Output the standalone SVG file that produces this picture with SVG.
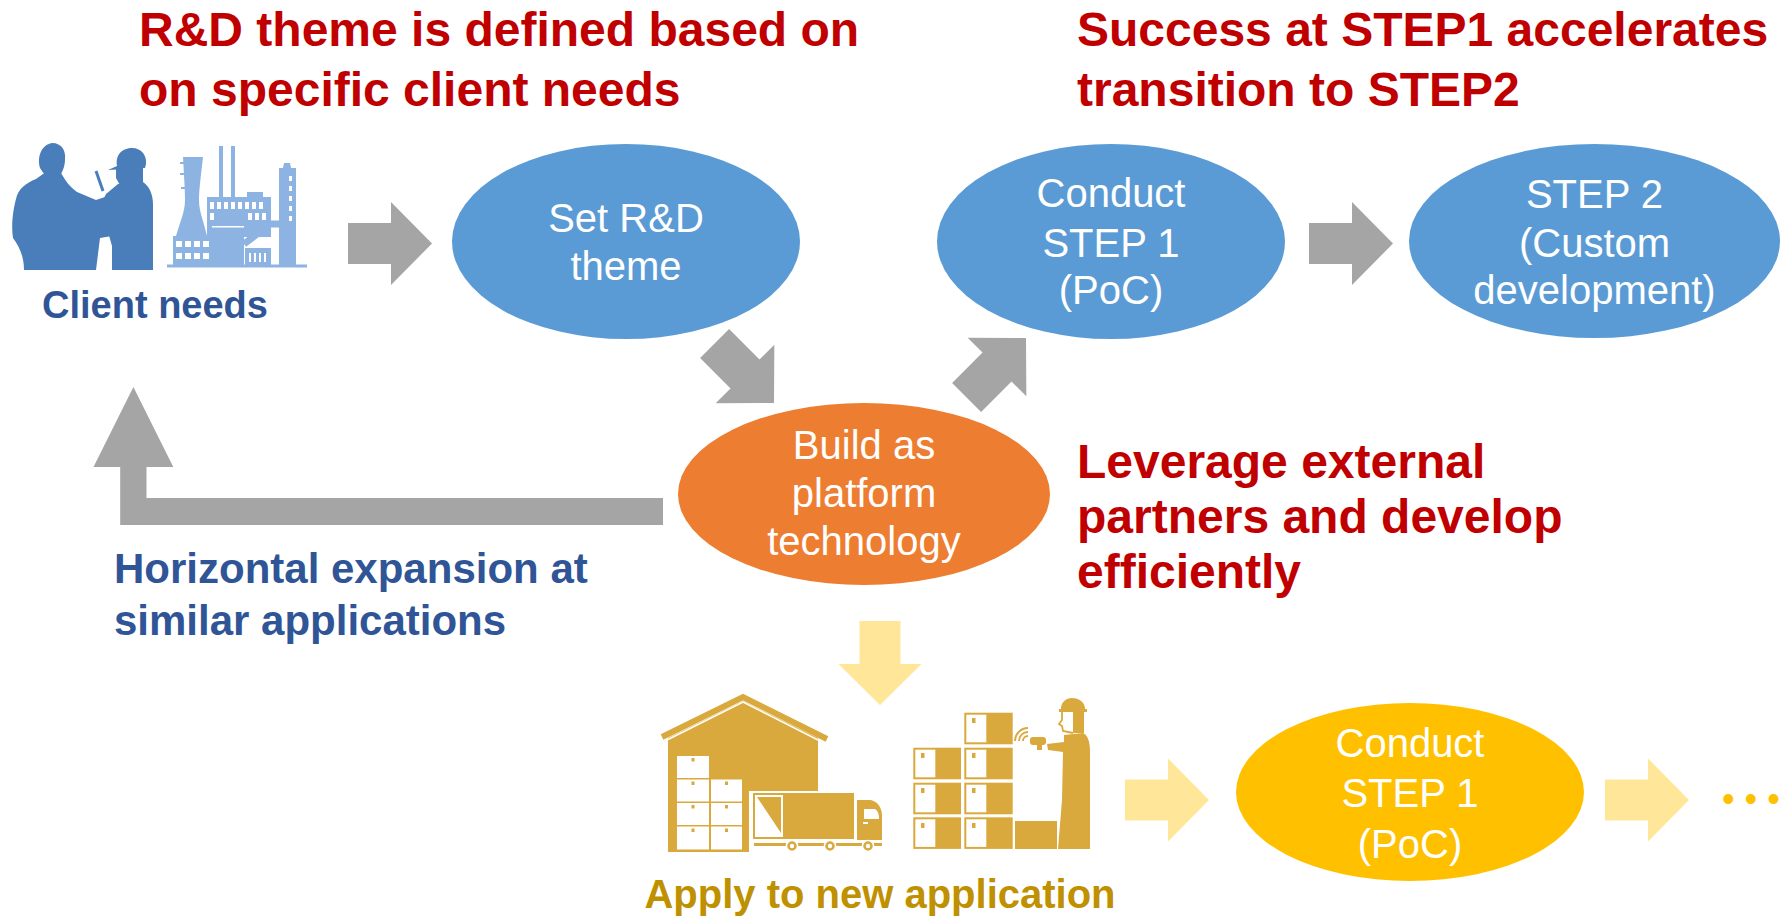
<svg xmlns="http://www.w3.org/2000/svg" xmlns:xlink="http://www.w3.org/1999/xlink" width="1782" height="918" viewBox="0 0 1782 918">
  <style>
    .red { fill: #c00000; font-family: "Liberation Sans", Arial, sans-serif; font-weight: bold; font-size: 48px; }
    .blue { fill: #2f5597; font-family: "Liberation Sans", Arial, sans-serif; font-weight: bold; }
    .gold { fill: #bf9000; font-family: "Liberation Sans", Arial, sans-serif; font-weight: bold; font-size: 40px; }
    .lbl { fill: #ffffff; font-family: "Liberation Sans", Arial, sans-serif; font-size: 40px; text-anchor: middle; }
    .gray { fill: #a5a5a5; }
    .lite { fill: #ffe699; }
    .ppl { fill: #4a7ebb; }
    .fac { fill: #8db3e2; }
    .ochre { fill: #daa93d; }
    .win { fill: #ffffff; }
  </style>
  <defs>
    <!-- block arrow pointing +x, tail at origin, 84 long -->
    <path id="blk" d="M0,-20.5 H43 V-41.5 L84,0 L43,41.5 V20.5 H0 Z"/>
  </defs>

  <!-- headline notes -->
  <g id="note-theme">
    <text class="red" x="139" y="46">R&amp;D theme is defined based on</text>
    <text class="red" x="139" y="106">on specific client needs</text>
  </g>
  <g id="note-step">
    <text class="red" x="1077" y="46">Success at STEP1 accelerates</text>
    <text class="red" x="1077" y="106">transition to STEP2</text>
  </g>
  <g id="note-partners">
    <text class="red" x="1077" y="478">Leverage external</text>
    <text class="red" x="1077" y="533">partners and develop</text>
    <text class="red" x="1077" y="588">efficiently</text>
  </g>
  <g id="note-horizontal">
    <text class="blue" font-size="42" x="114" y="583">Horizontal expansion at</text>
    <text class="blue" font-size="42" x="114" y="635">similar applications</text>
  </g>

  <!-- connectors -->
  <g id="connectors">
    <use href="#blk" class="gray" transform="translate(348,243.5)"/>
    <use href="#blk" class="gray" transform="translate(714.6,343.6) rotate(45)"/>
    <use href="#blk" class="gray" transform="translate(966.6,397.4) rotate(-45)"/>
    <use href="#blk" class="gray" transform="translate(1309,243.5)"/>
    <path class="gray" d="M663,498 H146.5 V467 H173.3 L133.4,387 L93.5,467 H120.2 V525 H663 Z"/>
    <use href="#blk" class="lite" transform="translate(880,621) rotate(90)"/>
    <use href="#blk" class="lite" transform="translate(1125,800)"/>
    <use href="#blk" class="lite" transform="translate(1605,800)"/>
  </g>

  <!-- client needs: people and plant -->
  <g id="client-needs">
    <g class="ppl">
      <path d="M40,168 C37,157 41,145 52,143 C62,143 66,151 65,159 C65,166 63,170 61,174 L46,177 Z"/>
      <path d="M43,174 L61,173 C65,180 69,186 77,192 L96,200 L108,196 L112,236 L100,238 L96,270 L24,270 C24,256 19,246 13,238 C11,226 13,210 16,199 C18,189 26,183 36,179 Z"/>
      <path d="M108,170 L117,166 C115,154 123,148 132,148 C142,148 147,156 146,164 L145,168 Z"/>
      <path d="M116,168 L143,168 L143,187 L121,187 L116,178 Z"/>
      <path d="M118,184 L143,182 C149,186 153,194 153,204 L153,270 L112,270 L112,246 L108,232 L104,218 L100,206 L106,194 Z"/>
      <path d="M96,171 L103,191" stroke="#4a7ebb" stroke-width="3"/>
    </g>
    <g class="fac">
      <rect x="167" y="264.5" width="140" height="3"/>
      <path d="M183,157 L203,157 C201,175 199,190 199,200 C199,212 204,222 207,236 L176,236 C180,222 185,212 185,200 C185,190 184,175 183,157 Z"/>
      <rect x="180" y="162" width="4" height="2"/>
      <rect x="180" y="173" width="4" height="2"/>
      <rect x="181" y="187" width="4" height="2"/>
      <rect x="219" y="146" width="4" height="52"/>
      <rect x="231" y="146" width="4" height="52"/>
      <rect x="207" y="197" width="64" height="40"/>
      <rect x="247" y="192" width="16" height="6"/>
      <path d="M212,267 L212,227 C212,219 220,216 228,216 C236,216 244,219 244,227 L244,267 Z"/>
      <rect x="173" y="236" width="40" height="31"/>
      <path d="M279,168 L283,168 L284,163 L290,163 L291,168 L296,168 L296,267 L279,267 Z"/>
      <path d="M244,244 L270,224 L280,224" stroke="#8db3e2" stroke-width="7" fill="none"/>
      <rect x="245" y="248" width="26" height="19"/>
    </g>
    <g class="win">
      <rect x="210" y="202" width="4" height="7"/><rect x="217" y="202" width="4" height="7"/><rect x="224" y="202" width="4" height="7"/><rect x="231" y="202" width="4" height="7"/><rect x="238" y="202" width="4" height="7"/><rect x="245" y="202" width="4" height="7"/><rect x="252" y="202" width="4" height="7"/><rect x="259" y="202" width="4" height="7"/>
      <rect x="210" y="213" width="4" height="7"/><rect x="248" y="213" width="4" height="7"/><rect x="255" y="213" width="4" height="7"/><rect x="262" y="213" width="4" height="7"/>
      <rect x="176" y="241" width="6" height="6"/><rect x="185" y="241" width="6" height="6"/><rect x="194" y="241" width="6" height="6"/><rect x="203" y="241" width="6" height="6"/>
      <rect x="176" y="253" width="6" height="6"/><rect x="185" y="253" width="6" height="6"/><rect x="194" y="253" width="6" height="6"/><rect x="203" y="253" width="6" height="6"/>
      <rect x="212" y="226" width="32" height="1.5"/>
      <rect x="249" y="253" width="2" height="9"/><rect x="254" y="253" width="2" height="9"/><rect x="259" y="253" width="2" height="9"/><rect x="264" y="253" width="2" height="9"/>
      <rect x="289" y="176" width="3" height="5"/><rect x="289" y="186" width="3" height="5"/><rect x="289" y="196" width="3" height="5"/><rect x="289" y="206" width="3" height="5"/><rect x="289" y="216" width="3" height="5"/>
    </g>
    <text class="blue" font-size="38" x="155" y="318" text-anchor="middle">Client needs</text>
  </g>

  <!-- process nodes -->
  <g id="set-theme">
    <ellipse cx="626" cy="241.5" rx="174" ry="97.5" fill="#5b9bd5"/>
    <text class="lbl" x="626" y="232">Set R&amp;D</text>
    <text class="lbl" x="626" y="280">theme</text>
  </g>
  <g id="step1">
    <ellipse cx="1111" cy="241.5" rx="174" ry="97.5" fill="#5b9bd5"/>
    <text class="lbl" x="1111" y="207">Conduct</text>
    <text class="lbl" x="1111" y="257">STEP 1</text>
    <text class="lbl" x="1111" y="304">(PoC)</text>
  </g>
  <g id="step2">
    <ellipse cx="1594.5" cy="241" rx="185.5" ry="97" fill="#5b9bd5"/>
    <text class="lbl" x="1594.5" y="208">STEP 2</text>
    <text class="lbl" x="1594.5" y="257">(Custom</text>
    <text class="lbl" x="1594.5" y="304">development)</text>
  </g>
  <g id="platform">
    <ellipse cx="864" cy="494" rx="186" ry="91" fill="#ed7d31"/>
    <text class="lbl" x="864" y="459">Build as</text>
    <text class="lbl" x="864" y="507">platform</text>
    <text class="lbl" x="864" y="555">technology</text>
  </g>
  <g id="new-step1">
    <ellipse cx="1410" cy="792" rx="174" ry="89" fill="#ffc000"/>
    <text class="lbl" font-size="42" x="1410" y="757">Conduct</text>
    <text class="lbl" font-size="42" x="1410" y="807">STEP 1</text>
    <text class="lbl" font-size="42" x="1410" y="858">(PoC)</text>
  </g>
  <g id="continue">
    <text x="1722" y="811" font-family="Liberation Sans, Arial, sans-serif" font-size="36" fill="#ffc000">• • •</text>
  </g>

  <!-- new application: warehouse, truck, worker -->
  <g id="new-application">
    <g class="ochre">
      <path d="M668,738 L743,701 L818,738 L818,791 L749,791 L749,852 L668,852 Z"/>
      <path d="M662,737 L743,697 L827,739" stroke="#daa93d" stroke-width="6" fill="none"/>
    </g>
    <path d="M667,740 L743,702 L820,741" stroke="#ffffff" stroke-width="1.5" fill="none"/>
    <g class="win">
      <rect x="677" y="756" width="32" height="22"/>
      <rect x="677" y="779.5" width="32" height="22"/><rect x="711" y="779.5" width="31" height="22"/>
      <rect x="677" y="803" width="32" height="22"/><rect x="711" y="803" width="31" height="22"/>
      <rect x="677" y="826.5" width="32" height="23"/><rect x="711" y="826.5" width="31" height="23"/>
    </g>
    <g class="ochre">
      <rect x="691.5" y="758" width="3" height="3.5"/>
      <rect x="691.5" y="781.5" width="3" height="3.5"/><rect x="725" y="781.5" width="3" height="3.5"/>
      <rect x="691.5" y="805" width="3" height="3.5"/><rect x="725" y="805" width="3" height="3.5"/>
      <rect x="691.5" y="828.5" width="3" height="3.5"/><rect x="725" y="828.5" width="3" height="3.5"/>
      <rect x="752" y="792" width="103" height="48" stroke="#ffffff" stroke-width="2"/>
      <path d="M857,800 L871,800 C878,802 882,808 882,816 L882,840 L857,840 Z"/>
      <rect x="754" y="843" width="128" height="3"/>
    </g>
    <rect x="755" y="795" width="28" height="42" fill="#ffffff"/>
    <path d="M757,797 L781,797 L781,833 Z" fill="#daa93d"/>
    <path d="M864,809 L875,809 C878,811 879,814 879,819 L864,819 Z" fill="#ffffff"/>
    <rect x="863" y="822" width="5" height="2" fill="#ffffff"/>
    <g fill="#daa93d" stroke="#ffffff" stroke-width="1.5">
      <circle cx="792" cy="846" r="5.5"/>
      <circle cx="830" cy="846" r="5.5"/>
      <circle cx="868" cy="846" r="5.5"/>
    </g>
    <g fill="#ffffff">
      <circle cx="792" cy="846" r="2.2"/>
      <circle cx="830" cy="846" r="2.2"/>
      <circle cx="868" cy="846" r="2.2"/>
    </g>

    <!-- stacked cartons -->
    <g class="ochre">
      <rect x="964.3" y="712.7" width="48.4" height="31.6"/>
      <rect x="913.3" y="747.7" width="47.7" height="31.6"/><rect x="964.3" y="747.7" width="48.4" height="31.6"/>
      <rect x="913.3" y="782.7" width="47.7" height="31.6"/><rect x="964.3" y="782.7" width="48.4" height="31.6"/>
      <rect x="913.3" y="817.3" width="47.7" height="31.6"/><rect x="964.3" y="817.3" width="48.4" height="31.6"/>
      <rect x="1015" y="821" width="42" height="28"/>
    </g>
    <g class="win">
      <rect x="966.3" y="714.7" width="20" height="27.6"/>
      <rect x="915.3" y="749.7" width="20" height="27.6"/><rect x="966.3" y="749.7" width="20" height="27.6"/>
      <rect x="915.3" y="784.7" width="20" height="27.6"/><rect x="966.3" y="784.7" width="20" height="27.6"/>
      <rect x="915.3" y="819.3" width="20" height="27.6"/><rect x="966.3" y="819.3" width="20" height="27.6"/>
    </g>
    <g class="ochre">
      <rect x="972" y="718" width="3.5" height="5"/>
      <rect x="921" y="753" width="3.5" height="5"/><rect x="972" y="753" width="3.5" height="5"/>
      <rect x="921" y="788" width="3.5" height="5"/><rect x="972" y="788" width="3.5" height="5"/>
      <rect x="921" y="823" width="3.5" height="5"/><rect x="972" y="823" width="3.5" height="5"/>
    </g>

    <!-- worker with scanner -->
    <g class="ochre">
      <path d="M1061,709 C1061,702 1066,698 1072,698 C1079,698 1085,702 1085,709 L1087,709 L1087,712 L1059,712 L1059,709 Z"/>
      <path d="M1073,712 L1084,712 L1084,733 L1073,733 Z"/>
      <path d="M1064,735 L1083,733 C1089,736 1090,744 1090,752 L1090,849 L1058,849 L1062,800 L1063,752 L1048,750 L1047,744 L1064,742 Z"/>
      <rect x="1030" y="737" width="16" height="8" rx="3"/>
      <rect x="1037" y="743" width="5" height="7"/>
    </g>
    <path d="M1062,712 L1062,720 L1059,724 L1062,726 L1063,731 L1073,733" stroke="#daa93d" stroke-width="1.8" fill="none"/>
    <g stroke="#daa93d" stroke-width="1.8" fill="none">
      <path d="M1023,741 A5,5 0 0 1 1028,736"/>
      <path d="M1019,741 A9,9 0 0 1 1028,732"/>
      <path d="M1015,741 A13,13 0 0 1 1028,728"/>
    </g>
    <text class="gold" x="880" y="908" text-anchor="middle">Apply to new application</text>
  </g>
</svg>
